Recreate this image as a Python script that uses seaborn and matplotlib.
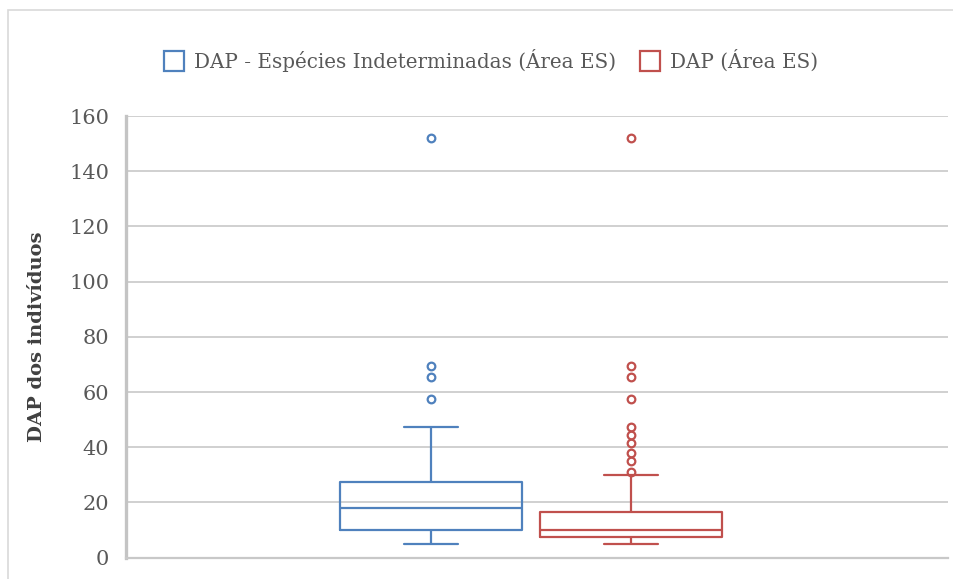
import numpy as np
import pandas as pd
import seaborn as sns
import matplotlib.pyplot as plt
from matplotlib.lines import Line2D
from matplotlib.patches import Rectangle

sns.set_theme(style="white")
plt.rcParams['font.family'] = ['DejaVu Serif']

series_names = ["DAP - Espécies Indeterminadas (Área ES)", "DAP (Área ES)"]
colors = ["#4F81BD", "#C0504D"]

# DAP values (cm) per series
dap_indeterminadas = [5, 6, 7, 8, 9, 10, 12, 14, 16, 17, 18, 20, 22, 24, 26, 27.5,
                      47.5, 57.5, 65.5, 69.5, 152]
dap_area_es = [5, 5.5, 5.8, 6, 6.2, 6.5, 6.7, 6.9, 7, 7.2, 7.4, 7.5,
               7.7, 7.9, 8, 8.3, 8.5, 8.8, 9, 9.3, 9.5, 9.8, 10,
               10.5, 11, 11.5, 12, 12.5, 13, 13.8, 14.5, 15.2, 16, 16.5,
               29.8, 31, 35, 38, 41.5, 44.5, 47.5, 57.5, 65.5, 69.5, 152]
y_ticks = [0, 20, 40, 60, 80, 100, 120, 140, 160]
y_label = "DAP dos indivíduos"

df = pd.DataFrame({
    "cat": ["ES"] * (len(dap_indeterminadas) + len(dap_area_es)),
    "serie": [series_names[0]] * len(dap_indeterminadas) + [series_names[1]] * len(dap_area_es),
    "DAP": dap_indeterminadas + dap_area_es,
})

fig = plt.figure(figsize=(9.54, 5.79), dpi=100)
ax = fig.add_axes([126 / 954, 1 - 557.6 / 579, (948 - 126) / 954, (557.6 - 116) / 579])

sns.boxplot(data=df, x="cat", y="DAP", hue="serie", palette=colors, fill=False,
            width=0.8, gap=0.09, linewidth=1.6, legend=False, ax=ax,
            capwidths=0.108,
            flierprops=dict(marker="o", markersize=5.5, markeredgewidth=1.6,
                            markerfacecolor="none"))

ax.set_xlim(-0.81, 0.834)
ax.set_ylim(0, 160)
ax.set_yticks(y_ticks)
ax.set_yticklabels([str(t) for t in y_ticks], color="#595959", fontsize=15)
ax.tick_params(axis="y", length=0, pad=12)
ax.set_xticks([])
ax.set_xlabel("")
ax.set_ylabel(y_label, fontsize=14, fontweight="bold", color="#404040", labelpad=17)
ax.yaxis.grid(True, color="#D0D0D0", linewidth=1.4)
ax.set_axisbelow(True)
for s in ["top", "right"]:
    ax.spines[s].set_visible(False)
ax.spines["left"].set_color("#C4C4C4")
ax.spines["left"].set_linewidth(2.4)
ax.spines["bottom"].set_color("#C8C8C8")
ax.spines["bottom"].set_linewidth(1.6)

handles = [Line2D([], [], linestyle="none", marker="s", markersize=14,
                  markerfacecolor="white", markeredgecolor=c, markeredgewidth=1.6)
           for c in colors]
fig.legend(handles, series_names, loc="center", bbox_to_anchor=(0.515, 1 - 60 / 579),
           ncol=2, frameon=False, fontsize=14.3, labelcolor="#595959",
           handlelength=1.0, handletextpad=0.5, columnspacing=1.2)

fig.patches.append(Rectangle((8 / 954, -0.1), 1.2, 1 - 10 / 579 + 0.1,
                             transform=fig.transFigure, fill=False,
                             edgecolor="#D9D9D9", linewidth=1.2))

fig.savefig("out.png", dpi=100)
